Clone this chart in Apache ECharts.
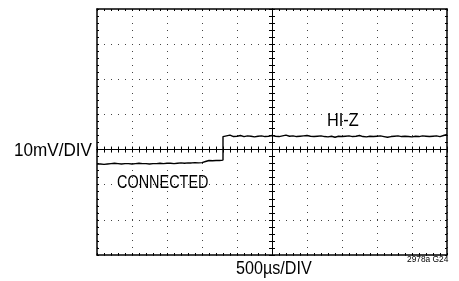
<!DOCTYPE html>
<html>
<head>
<meta charset="utf-8">
<script src="https://cdn.jsdelivr.net/npm/echarts@6/dist/echarts.min.js"></script>
<style>
  html, body { margin: 0; padding: 0; background: #fff; }
  #chart { width: 459px; height: 281px; }
</style>
</head>
<body>
<div id="chart"></div>
<script>
// scope settings: 500us/DIV, 10mV/DIV, trigger at centre
const X_MIN = -2500
const X_MAX = 2500
const X_DIV = 500
const Y_MIN = -30
const Y_MAX = 40
const Y_DIV = 10
const SAMPLE_US = 50

// trace while CONNECTED, starts at -2500us
const connectedStart = -2500
const connectedMv = [
  -4.1, -4.1, -4.2, -4.1, -4.0, -3.9, -4.0, -4.1, -4.0, -4.0,
  -4.1, -4.0, -3.9, -4.0, -4.0, -4.1, -4.0, -4.0, -3.9, -4.0,
  -3.9, -3.9, -4.0, -3.9, -3.8, -3.9, -3.8, -3.8, -3.7, -3.8,
  -3.7, -3.4, -3.1, -3.2, -3.1, -3.1, -3.0
]

// trace in HI-Z, starts at the step (-700us)
const hizStart = -700
const hizMv = [
  3.7, 3.9, 4.1, 3.7, 3.8, 4.0, 3.7, 3.9, 3.8, 3.6,
  3.8, 3.9, 3.7, 3.8, 4.0, 3.8, 3.7, 3.9, 4.1, 3.8,
  3.9, 3.7, 3.8, 3.9, 4.0, 3.8, 3.7, 3.8, 3.9, 3.7,
  3.6, 3.8, 3.5, 3.8, 3.7, 3.8, 3.9, 3.7, 3.8, 4.0,
  3.7, 3.6, 3.8, 3.7, 3.8, 3.9, 3.7, 3.5, 3.7, 3.8,
  3.9, 3.7, 3.8, 3.7, 3.6, 3.8, 3.7, 3.9, 3.8, 3.7,
  3.8, 3.9, 3.7, 4.0, 4.3
]

const traceData = []
connectedMv.forEach((v, i) => traceData.push([connectedStart + i * SAMPLE_US, v]))
hizMv.forEach((v, i) => traceData.push([hizStart + i * SAMPLE_US, v]))

const FONT = "'Liberation Sans', Arial, sans-serif"

const chart = echarts.init(document.getElementById('chart'))

// frame axes (grid 0): border with small inside ticks, dotted graticule
const frameX = (pos, withGrid) => ({
  type: 'value', gridIndex: 0, position: pos,
  min: X_MIN, max: X_MAX, interval: X_DIV,
  axisLine: { show: true, onZero: false, lineStyle: { color: '#000', width: 1.5 } },
  axisTick: { show: true, inside: true, length: 2, lineStyle: { color: '#000' } },
  minorTick: { show: true, splitNumber: 5, length: 2, lineStyle: { color: '#000' } },
  axisLabel: { show: false },
  splitLine: { show: withGrid, lineStyle: { color: '#444', width: 1, type: [1, 6] } }
})
const frameY = (pos, withGrid) => ({
  type: 'value', gridIndex: 0, position: pos,
  min: Y_MIN, max: Y_MAX, interval: Y_DIV,
  axisLine: { show: true, onZero: false, lineStyle: { color: '#000', width: 1.5 } },
  axisTick: { show: true, inside: true, length: 2, lineStyle: { color: '#000' } },
  minorTick: { show: true, splitNumber: 5, length: 2, lineStyle: { color: '#000' } },
  axisLabel: { show: false },
  splitLine: { show: withGrid, lineStyle: { color: '#444', width: 1, type: [1, 6] } }
})

// centre cross axes (grid 1): lines through zero with "+" ticks
const crossX = (pos) => ({
  type: 'value', gridIndex: 1, position: pos,
  min: X_MIN, max: X_MAX, interval: X_DIV,
  axisLine: { show: true, onZero: true, lineStyle: { color: '#000', width: 1 } },
  axisTick: { show: true, length: 3, lineStyle: { color: '#000' } },
  minorTick: { show: true, splitNumber: 5, length: 3, lineStyle: { color: '#000' } },
  axisLabel: { show: false },
  splitLine: { show: false }
})
const crossY = (pos) => ({
  type: 'value', gridIndex: 1, position: pos,
  min: Y_MIN, max: Y_MAX, interval: Y_DIV,
  axisLine: { show: true, onZero: true, lineStyle: { color: '#000', width: 1 } },
  axisTick: { show: true, length: 3, lineStyle: { color: '#000' } },
  minorTick: { show: true, splitNumber: 5, length: 3, lineStyle: { color: '#000' } },
  axisLabel: { show: false },
  splitLine: { show: false }
})

// condensed look: Liberation Sans squeezed horizontally
const label = (text, x, y, size, sx) => ({
  type: 'text', x: x, y: y, scaleX: sx, z: 10,
  style: { text: text, font: size + 'px ' + FONT, fill: '#000', align: 'left', verticalAlign: 'middle' }
})

const option = {
  animation: false,
  backgroundColor: '#fff',
  grid: [
    { left: 97, top: 9, width: 350, height: 246, containLabel: false },
    { left: 97, top: 9, width: 350, height: 246, containLabel: false }
  ],
  xAxis: [frameX('bottom', true), frameX('top', false), crossX('bottom'), crossX('top')],
  yAxis: [frameY('left', true), frameY('right', false), crossY('left'), crossY('right')],
  series: [
    {
      type: 'line',
      xAxisIndex: 2,
      yAxisIndex: 2,
      data: traceData,
      showSymbol: false,
      lineStyle: { color: '#000', width: 1.4 },
      z: 5
    }
  ],
  graphic: [
    label('10mV/DIV', 14, 151, 19, 0.9),
    label('CONNECTED', 117, 183, 19, 0.76),
    label('HI-Z', 327, 120.5, 19, 0.86),
    label('500µs/DIV', 236, 268.5, 19, 0.85),
    label('2978a G24', 407, 259, 9.5, 0.88)
  ]
}

chart.setOption(option)
</script>
</body>
</html>
